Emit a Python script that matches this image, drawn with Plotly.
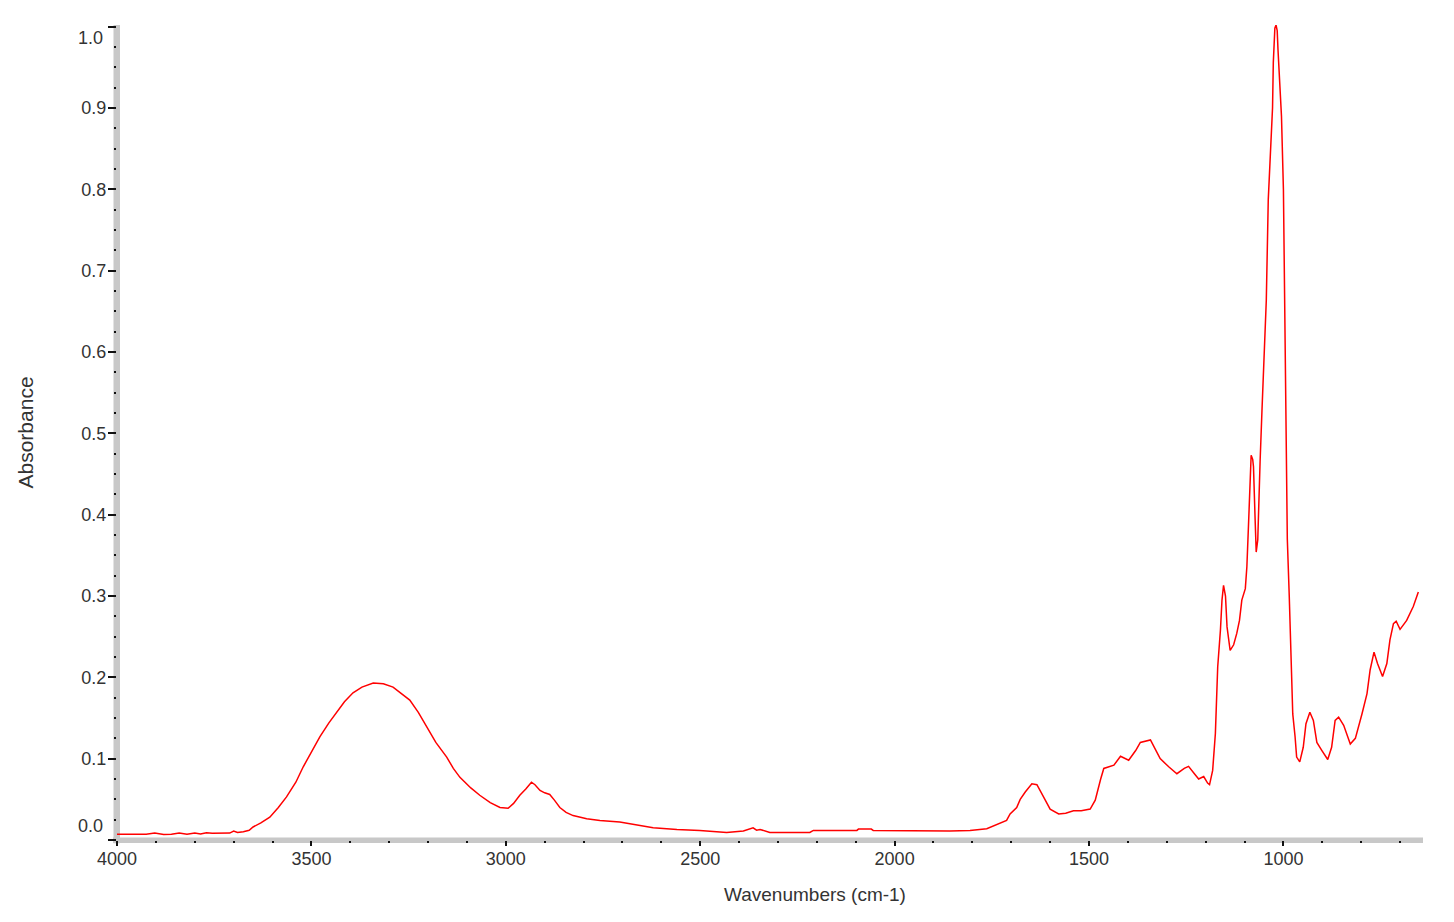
import plotly.graph_objects as go

# Wavenumbers (cm-1), descending, and absorbance values
wavenumbers = [
    4000, 3975, 3950, 3925, 3903, 3880, 3860, 3840, 3820, 3800, 3785, 3770, 3755, 3740,
    3725, 3710, 3700, 3690, 3675, 3660, 3650, 3630, 3607, 3585, 3564, 3540, 3521, 3500,
    3478, 3455, 3435, 3415, 3393, 3370, 3341, 3315, 3290, 3270, 3247, 3225, 3204, 3180,
    3152, 3135, 3118, 3090, 3067, 3040, 3015, 2994, 2980, 2964, 2948, 2934, 2925, 2912,
    2900, 2887, 2875, 2861, 2845, 2827, 2792, 2758, 2707, 2672, 2621, 2560, 2501, 2432,
    2389, 2364, 2355, 2346, 2321, 2218, 2209, 2097, 2093, 2060, 2055, 1858, 1806, 1763,
    1729, 1712, 1703, 1686, 1677, 1664, 1647, 1634, 1617, 1600, 1578, 1560, 1540, 1520,
    1497, 1484, 1470, 1462, 1436, 1419, 1398, 1380, 1368, 1342, 1330, 1317, 1295, 1274,
    1255, 1244, 1230, 1218, 1205, 1195, 1190, 1182, 1175, 1169, 1162, 1158, 1154, 1149,
    1145, 1137, 1128, 1120, 1113, 1107, 1098, 1094, 1090, 1086, 1083, 1079, 1077, 1073,
    1070, 1066, 1064, 1060, 1055, 1044, 1039, 1032, 1028, 1026, 1022, 1019, 1016, 1014,
    1010, 1005, 1000, 996, 993, 990, 985, 982, 979, 976, 970, 966, 958, 949, 942, 932,
    923, 914, 901, 886, 876, 867, 858, 845, 828, 815, 798, 785, 777, 767, 758, 745, 734,
    726, 717, 710, 700, 683, 666, 653,
]
absorbance = [
    0.0070, 0.0068, 0.0066, 0.0072, 0.0085, 0.0068, 0.0072, 0.0086, 0.0070, 0.0087, 0.0074, 0.0090, 0.0084, 0.0086,
    0.0092, 0.0085, 0.0110, 0.0092, 0.0102, 0.0120, 0.0160, 0.0210, 0.0280, 0.0400, 0.0530, 0.0710, 0.0900, 0.1080,
    0.1270, 0.1440, 0.1570, 0.1700, 0.1810, 0.1880, 0.1930, 0.1920, 0.1880, 0.1810, 0.1720, 0.1570, 0.1390, 0.1200,
    0.1020, 0.0880, 0.0770, 0.0640, 0.0550, 0.0460, 0.0400, 0.0390, 0.0450, 0.0550, 0.0630, 0.0710, 0.0680, 0.0610,
    0.0580, 0.0560, 0.0490, 0.0400, 0.0340, 0.0300, 0.0260, 0.0240, 0.0220, 0.0190, 0.0150, 0.0130, 0.0118, 0.0093,
    0.0110, 0.0150, 0.0120, 0.0130, 0.0093, 0.0093, 0.0118, 0.0118, 0.0134, 0.0134, 0.0118, 0.0110, 0.0118, 0.0138,
    0.0210, 0.0240, 0.0320, 0.0400, 0.0500, 0.0590, 0.0690, 0.0680, 0.0530, 0.0380, 0.0320, 0.0330, 0.0360, 0.0360,
    0.0380, 0.0490, 0.0750, 0.0880, 0.0920, 0.1030, 0.0980, 0.1100, 0.1200, 0.1230, 0.1120, 0.1000, 0.0900, 0.0815,
    0.0880, 0.0905, 0.0820, 0.0750, 0.0780, 0.0700, 0.0680, 0.0856, 0.1310, 0.2130, 0.2580, 0.2950, 0.3130, 0.3000,
    0.2620, 0.2330, 0.2400, 0.2540, 0.2700, 0.2950, 0.3090, 0.3360, 0.3850, 0.4340, 0.4730, 0.4680, 0.4590, 0.3970,
    0.3540, 0.3690, 0.4100, 0.4650, 0.5300, 0.6640, 0.7870, 0.8600, 0.9000, 0.9560, 0.9980, 1.0020, 0.9950, 0.9720,
    0.9400, 0.8900, 0.8000, 0.6500, 0.5400, 0.3700, 0.3000, 0.2500, 0.2000, 0.1550, 0.1270, 0.1020, 0.0960, 0.1140, 0.1430, 0.1570,
    0.1470, 0.1200, 0.1100, 0.0990, 0.1140, 0.1470, 0.1510, 0.1410, 0.1180, 0.1250, 0.1550, 0.1800, 0.2090, 0.2310, 0.2170, 0.2010, 0.2170,
    0.2460, 0.2660, 0.2690, 0.2590, 0.2700, 0.2870, 0.3050,
]

x_range = [4000, 641]
y_range = [0.0, 1.002]
x_ticks = [4000, 3500, 3000, 2500, 2000, 1500, 1000]
y_ticks = [0.0, 0.1, 0.2, 0.3, 0.4, 0.5, 0.6, 0.7, 0.8, 0.9, 1.0]
y_ticktext = ["", "0.1", "0.2", "0.3", "0.4", "0.5", "0.6", "0.7", "0.8", "0.9", ""]

FONT = "Liberation Sans, Arial, sans-serif"
TXT = "#333333"
BAR = "#c8c8c8"

fig = go.Figure()
fig.add_trace(go.Scatter(
    x=wavenumbers, y=absorbance, mode="lines",
    line=dict(color="#ff0000", width=1.5), showlegend=False,
))

# the page body adds an 8px offset; margins compensate so the plot lands where the reference has it
fig.update_layout(
    width=1454, height=922,
    margin=dict(l=109, r=39, t=17, b=90),
    paper_bgcolor="white", plot_bgcolor="rgba(0,0,0,0)",
    font=dict(family=FONT, size=18, color=TXT),
    xaxis=dict(
        range=x_range, showgrid=False, zeroline=False, showline=False,
        tickmode="array", tickvals=x_ticks, ticks="outside", ticklen=5,
        tickwidth=1.5, tickcolor="#111111", ticklabelstandoff=-3,
        tickfont=dict(size=18, color=TXT, family=FONT),
        minor=dict(dtick=100, ticks="outside", ticklen=2, tickwidth=1.5, tickcolor="#111111", showgrid=False),
    ),
    yaxis=dict(
        range=y_range, showgrid=False, zeroline=False, showline=False,
        tickmode="array", tickvals=y_ticks, ticktext=y_ticktext, ticks="outside", ticklen=8,
        tickwidth=1.5, tickcolor="#111111", ticklabelstandoff=-2,
        tickfont=dict(size=18, color=TXT, family=FONT),
        minor=dict(dtick=0.025, ticks="outside", ticklen=2, tickwidth=1.5, tickcolor="#111111", showgrid=False),
    ),
    shapes=[
        dict(type="rect", xref="paper", yref="paper", xsizemode="pixel", xanchor=0,
             x0=-3.5, x1=3, y0=-0.004, y1=1.0, fillcolor=BAR, line=dict(width=0), layer="below"),
        dict(type="rect", xref="paper", yref="paper", ysizemode="pixel", yanchor=0,
             y0=-3, y1=2.5, x0=-0.003, x1=1.0, fillcolor=BAR, line=dict(width=0), layer="below"),
    ],
    annotations=[
        dict(text="Absorbance", xref="paper", yref="paper", x=0, y=0.5, xshift=-92,
             xanchor="center", yanchor="middle", textangle=-90, showarrow=False,
             font=dict(size=21, color=TXT, family=FONT)),
        dict(text="Wavenumbers (cm-1)", xref="paper", yref="paper", x=0.5345, y=0, yshift=-54,
             xanchor="center", yanchor="middle", showarrow=False,
             font=dict(size=19, color=TXT, family=FONT)),
        dict(text="0.0", xref="paper", yref="y", x=0, y=0.0, xshift=-12, yshift=14,
             xanchor="right", yanchor="middle", showarrow=False,
             font=dict(size=18, color=TXT, family=FONT)),
        dict(text="1.0", xref="paper", yref="y", x=0, y=1.0, xshift=-12, yshift=-11,
             xanchor="right", yanchor="middle", showarrow=False,
             font=dict(size=18, color=TXT, family=FONT)),
    ],
)

fig.write_html("out.html")
